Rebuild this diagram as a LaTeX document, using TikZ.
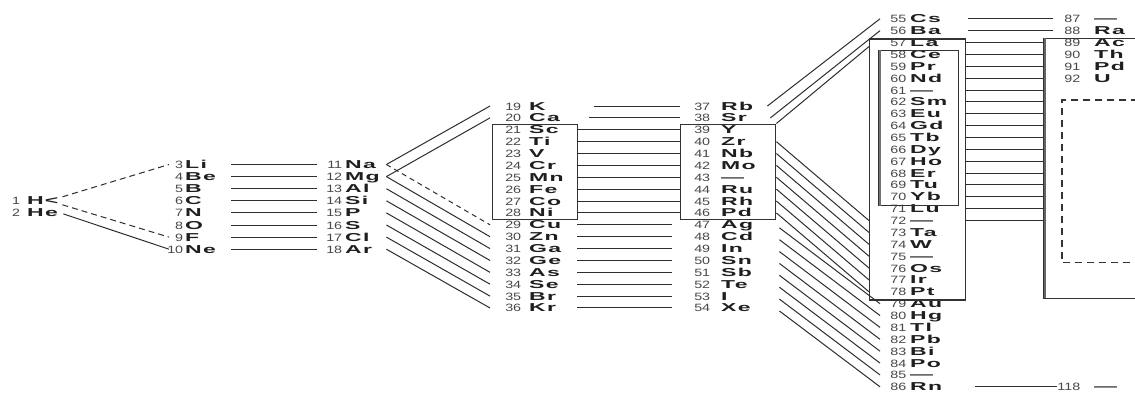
\documentclass[tikz,border=0pt]{standalone}
\usepackage{fontspec}
\setmainfont{Liberation Sans}
\newfontfamily\numf[FakeStretch=1.35]{Liberation Sans}
\newfontfamily\symf[FakeStretch=2.0,LetterSpace=12]{Liberation Sans}
\usetikzlibrary{calc}
\newcommand\Nm[1]{{\numf\fontsize{10.6}{10.6}\selectfont\color{black!72}#1}}
\newcommand\Sy[1]{{\symf\bfseries\fontsize{11.5}{11.5}\selectfont\color{black!88}#1}}
% name, x, y, width, numw, gap, num, sym
\newcommand\El[8]{\node[elem,text width=#4pt] (#1) at (#2,{#3}) {\makebox[#5pt][r]{\Nm{#7}}\hspace{#6pt}\Sy{#8}};}
\tikzset{
  elem/.style={anchor=west, inner sep=0pt, text height=8pt, text depth=0pt, align=left},
  conn/.style={draw=black!82, line width=1pt},
  dsh/.style={conn, dash pattern=on 6pt off 4pt},
  dshb/.style={conn, dash pattern=on 5pt off 4pt},
  boxs/.style={draw=black!80, line width=1.4pt, inner sep=0pt, anchor=north west},
  ghost/.style={inner sep=0pt, anchor=north west}
}
\begin{document}
\begin{tikzpicture}[x=1pt,y=-1pt]
\clip (0,0) rectangle (1135,392);
\fill[white] (0,0) rectangle (1135,392);

% ---- period 1
\node[elem,text width=45pt] (h) at (13,200.8) {\makebox[7pt][r]{\Nm{1}}\hspace{7pt}\Sy{H}\hfill\Sy{<}};
\node[elem,text width=50pt] (he) at (13,212.9) {\makebox[7pt][r]{\Nm{2}}\hspace{7pt}\Sy{He}};

% ---- period 2 and 3
\foreach \z/\s [count=\i from 0] in {3/Li,4/Be,5/B,6/C,7/N,8/O,9/F,10/Ne}
  {\El{e\z}{169}{164.5+12.1*\i}{62}{14}{2}{\z}{\s}}
\foreach \z/\s [count=\i from 0] in {11/Na,12/Mg,13/Al,14/Si,15/P,16/S,17/Cl,18/Ar}
  {\El{e\z}{317}{164.5+12.1*\i}{69}{25}{3}{\z}{\s}}

% ---- period 4 and 5
\foreach \z/\s [count=\i from 0] in {19/K,20/Ca,21/Sc,22/Ti,23/V,24/Cr,25/Mn,26/Fe,27/Co,28/Ni,29/Cu,30/Zn,31/Ga,32/Ge,33/As,34/Se,35/Br,36/Kr}
  {\El{e\z}{490}{106+11.88*\i}{87}{31}{8}{\z}{\s}}
\foreach \z/\s [count=\i from 0] in {37/Rb,38/Sr,39/Y,40/Zr,41/Nb,42/Mo,43/—,44/Ru,45/Rh,46/Pd,47/Ag,48/Cd,49/In,50/Sn,51/Sb,52/Te,53/I,54/Xe}
  {\El{e\z}{680}{106+11.88*\i}{95}{30}{11}{\z}{\s}}
\node[boxs, minimum width=85pt, minimum height=95.5pt] (box4) at (492,123.5) {};
\node[boxs, minimum width=95pt, minimum height=95.5pt] (box5) at (680,123.5) {};

% ---- period 6
\foreach \z/\s [count=\i from 0] in {55/Cs,56/Ba,57/La,58/Ce,59/Pr,60/Nd,61/—,62/Sm,63/Eu,64/Gd,65/Tb,66/Dy,67/Ho,68/Er,69/Tu,70/Yb,71/Lu,72/—,73/Ta,74/W,75/—,76/Os,77/Ir,78/Pt,79/Au,80/Hg,81/Tl,82/Pb,83/Bi,84/Po,85/—,86/Rn}
  {\El{e\z}{880}{18.8+11.87*\i}{85}{26}{4}{\z}{\s}}
\node[boxs, minimum width=96pt, minimum height=261pt] (labox) at (869,38.3) {};
\node[boxs, line width=1.1pt, minimum width=80pt, minimum height=155pt] (inbox) at (878,49.5) {};
\draw[black!55, line width=2.2pt] ($(inbox.north west)+(1.6,0)$) -- ($(inbox.south west)+(1.6,0)$);

% ---- period 7
\foreach \z/\s/\i in {87/—/0,88/Ra/1,89/Ac/2,90/Th/3,91/Pd/4,92/U/5,118/—/31}
  {\El{e\z}{1053}{18.8+11.87*\i}{80}{27}{14}{\z}{\s}}
\node[ghost, minimum width=120pt, minimum height=259.7pt] (actbox) at (1044,38.3) {};
\draw[black!80, line width=1.4pt] (actbox.north east) -- (actbox.north west) -- (actbox.south west) -- (actbox.south east);
\draw[black!60, line width=2.2pt] ($(actbox.north west)+(1.2,0)$) -- ($(actbox.south west)+(1.2,0)$);
\node[ghost, minimum width=100pt, minimum height=162pt] (dashbox) at (1062,100) {};
\draw[black!80, line width=1.3pt, dash pattern=on 7pt off 5pt] (dashbox.north east) -- (dashbox.north west) -- (dashbox.south west) -- (dashbox.south east);

% ---- connectors: period 1 -> 2
\draw[dsh] ($(h.east)+(4,-4)$) -- (e3.west);
\draw[dsh] ($(h.east)+(4,4)$) -- (e9.west);
\draw[conn] ($(he.east)+(0,1)$) -- (e10.west);

% ---- 2 -> 3
\foreach \a/\b in {3/11,4/12,5/13,6/14,7/15,8/16,9/17,10/18}
  \draw[conn] (e\a.east) -- (e\b.west);

% ---- 3 -> 4
\draw[conn] (e11.east) -- (e19.west);
\draw[conn] (e12.east) -- (e20.west);
\draw[dshb] (e11.east) -- (e29.west);
\foreach \a/\b in {12/30,13/31,14/32,15/33,16/34,17/35,18/36}
  \draw[conn] (e\a.east) -- (e\b.west);

% ---- 4 -> 5
\draw[conn, shorten <=17pt] (e19.east) -- (e37.west);
\draw[conn, shorten <=12pt] (e20.east) -- (e38.west);
\foreach \a/\b in {21/39,22/40,23/41,24/42,25/43,26/44,27/45,28/46}
  \draw[conn] (e\a.east) -- (e\b.west);
\foreach \a/\b in {29/47,30/48,31/49,32/50,33/51,34/52,35/53,36/54}
  \draw[conn, shorten >=8pt] (e\a.east) -- (e\b.west);

% ---- 5 -> 6
\draw[conn] ($(e37.east)+(-8,0)$) -- (e55.west);
\draw[conn] ($(e38.east)+(-5,0)$) -- (e56.west);
\draw[conn] (box5.north east) -- ($(labox.west |- e57.west)+(0,4)$);
\foreach \a/\b in {40/72,41/73,42/74,43/75,44/76,45/77,46/78}
  \draw[conn] (box5.east |- e\a.east) -- (labox.west |- e\b.west);
\foreach \a/\b in {47/79,48/80,49/81,50/82,51/83,52/84,53/85,54/86}
  \draw[conn, shorten <=5pt] (e\a.east) -- (e\b.west);

% ---- 6 -> 7
\draw[conn, shorten <=3pt] (e55.east) -- (e87.west);
\draw[conn, shorten <=3pt] (e56.east) -- (e88.west);
\foreach \a in {57,...,72}
  \draw[conn] (labox.east |- e\a.east) -- (actbox.west |- e\a.east);
\draw[conn, shorten <=10pt, shorten >=-4pt] (e86.east) -- (e118.west);
\end{tikzpicture}
\end{document}
